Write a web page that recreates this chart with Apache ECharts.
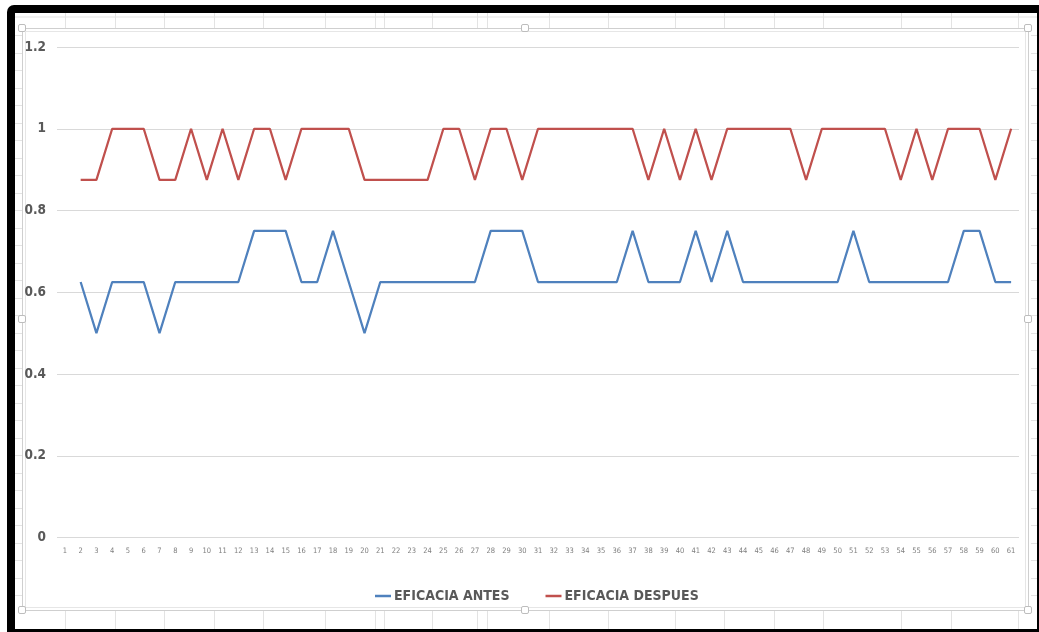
<!DOCTYPE html>
<html>
<head>
<meta charset="utf-8">
<title>Eficacia antes y después</title>
<script src="https://cdn.jsdelivr.net/npm/echarts@6/dist/echarts.min.js"></script>
<style>
  html, body { margin: 0; padding: 0; background: #ffffff; }
  #chart { width: 1039px; height: 632px; }
</style>
</head>
<body>
<div id="chart"></div>
<script>
// Category labels along the x axis (one per row of the sheet)
const categories = [
  '1','2','3','4','5','6','7','8','9','10',
  '11','12','13','14','15','16','17','18','19','20',
  '21','22','23','24','25','26','27','28','29','30',
  '31','32','33','34','35','36','37','38','39','40',
  '41','42','43','44','45','46','47','48','49','50',
  '51','52','53','54','55','56','57','58','59','60',
  '61'
];

// Efficacy before (category 1 has no value)
const eficaciaAntes = [
  null, 0.625, 0.5, 0.625, 0.625, 0.625, 0.5, 0.625, 0.625, 0.625,
  0.625, 0.625, 0.75, 0.75, 0.75, 0.625, 0.625, 0.75, 0.625, 0.5,
  0.625, 0.625, 0.625, 0.625, 0.625, 0.625, 0.625, 0.75, 0.75, 0.75,
  0.625, 0.625, 0.625, 0.625, 0.625, 0.625, 0.75, 0.625, 0.625, 0.625,
  0.75, 0.625, 0.75, 0.625, 0.625, 0.625, 0.625, 0.625, 0.625, 0.625,
  0.75, 0.625, 0.625, 0.625, 0.625, 0.625, 0.625, 0.75, 0.75, 0.625,
  0.625
];

// Efficacy after (category 1 has no value)
const eficaciaDespues = [
  null, 0.875, 0.875, 1, 1, 1, 0.875, 0.875, 1, 0.875,
  1, 0.875, 1, 1, 0.875, 1, 1, 1, 1, 0.875,
  0.875, 0.875, 0.875, 0.875, 1, 1, 0.875, 1, 1, 0.875,
  1, 1, 1, 1, 1, 1, 1, 0.875, 1, 0.875,
  1, 0.875, 1, 1, 1, 1, 1, 0.875, 1, 1,
  1, 1, 1, 0.875, 1, 0.875, 1, 1, 1, 0.875,
  1
];

const seriesNames = ['EFICACIA ANTES', 'EFICACIA DESPUES'];

// Value axis range
const yMin = 0;
const yMax = 1.2;
const yStep = 0.2;

const FONT = "'Liberation Sans Narrow', 'DejaVu Sans Condensed', 'Roboto', sans-serif";
const TEXT_GREY = '#595959';
const SHEET_LINE = '#e3e3e3';

// Worksheet backdrop around the embedded chart: dark frame, cell lines and chart-area border
function buildSheetGraphics() {
  const g = [];
  // dark window frame
  g.push({ type: 'rect', z: -10, shape: { x: 7, y: 5, width: 1032, height: 627, r: [7, 0, 0, 0] },
           style: { fill: '#000000' }, silent: true });
  g.push({ type: 'rect', z: -9, shape: { x: 15, y: 13, width: 1022, height: 616 },
           style: { fill: '#ffffff' }, silent: true });
  // header row line
  g.push({ type: 'line', z: -8, shape: { x1: 15, y1: 17, x2: 1037, y2: 17 },
           style: { stroke: SHEET_LINE, lineWidth: 1 }, silent: true });
  // column lines in the strips above and below the chart
  const cols = [65, 115, 164, 214, 263, 325, 375, 384, 432, 477, 487, 549, 608, 675, 724, 774, 823, 901, 951, 1018];
  cols.forEach(function (x) {
    g.push({ type: 'line', z: -8, shape: { x1: x + 0.5, y1: 13, x2: x + 0.5, y2: 28 },
             style: { stroke: SHEET_LINE, lineWidth: 1 }, silent: true });
    g.push({ type: 'line', z: -8, shape: { x1: x + 0.5, y1: 611, x2: x + 0.5, y2: 629 },
             style: { stroke: SHEET_LINE, lineWidth: 1 }, silent: true });
  });
  // row lines in the strips left and right of the chart
  for (let y = 35; y < 612; y += 17.5) {
    const yy = Math.round(y) + 0.5;
    g.push({ type: 'line', z: -8, shape: { x1: 15, y1: yy, x2: 22, y2: yy },
             style: { stroke: SHEET_LINE, lineWidth: 1 }, silent: true });
    g.push({ type: 'line', z: -8, shape: { x1: 1031, y1: yy, x2: 1037, y2: yy },
             style: { stroke: SHEET_LINE, lineWidth: 1 }, silent: true });
  }
  // chart area border (double light line)
  g.push({ type: 'rect', z: -7, shape: { x: 22.5, y: 28.5, width: 1006, height: 582 },
           style: { fill: '#ffffff', stroke: '#cfcfcf', lineWidth: 1 }, silent: true });
  g.push({ type: 'rect', z: -7, shape: { x: 25.5, y: 31.5, width: 1000, height: 576 },
           style: { fill: 'none', stroke: '#e6e6e6', lineWidth: 1 }, silent: true });
  // selection handles
  const handles = [[22, 28], [525, 28], [1028, 28], [22, 319], [1028, 319], [22, 610], [525, 610], [1028, 610]];
  handles.forEach(function (p) {
    g.push({ type: 'rect', z: -6, shape: { x: p[0] - 3.5, y: p[1] - 3.5, width: 7, height: 7, r: 1.5 },
             style: { fill: '#ffffff', stroke: '#bdbdbd', lineWidth: 1 }, silent: true });
  });
  return g;
}

const chart = echarts.init(document.getElementById('chart'), null, { renderer: 'canvas' });

chart.setOption({
  backgroundColor: '#ffffff',
  animation: false,
  color: ['#4f81bd', '#c0504d'],
  graphic: buildSheetGraphics(),
  grid: { left: 57, right: 20, top: 47, bottom: 94.5, containLabel: false },
  legend: {
    data: seriesNames,
    left: 370,
    top: 584,
    icon: 'rect',
    itemWidth: 16,
    itemHeight: 2.5,
    itemGap: 36,
    textStyle: { fontFamily: FONT, fontSize: 14, fontWeight: 'bold', color: TEXT_GREY, padding: [0, 0, 0, -2] }
  },
  xAxis: {
    type: 'category',
    data: categories,
    boundaryGap: true,
    axisLine: { show: false },
    axisTick: { show: false },
    axisLabel: { interval: 0, margin: 10, fontFamily: FONT, fontSize: 7.5, color: '#7f7f7f' },
    splitLine: { show: false }
  },
  yAxis: {
    type: 'value',
    min: yMin,
    max: yMax,
    interval: yStep,
    axisLine: { show: false },
    axisTick: { show: false },
    axisLabel: { margin: 11, fontFamily: FONT, fontSize: 13.5, fontWeight: 'bold', color: TEXT_GREY },
    splitLine: { show: true, lineStyle: { color: '#d9d9d9', width: 1 } }
  },
  series: [
    {
      name: seriesNames[0],
      type: 'line',
      data: eficaciaAntes,
      symbol: 'none',
      lineStyle: { width: 2.25, color: '#4f81bd' },
      itemStyle: { color: '#4f81bd' }
    },
    {
      name: seriesNames[1],
      type: 'line',
      data: eficaciaDespues,
      symbol: 'none',
      lineStyle: { width: 2.25, color: '#c0504d' },
      itemStyle: { color: '#c0504d' }
    }
  ]
});
</script>
</body>
</html>
